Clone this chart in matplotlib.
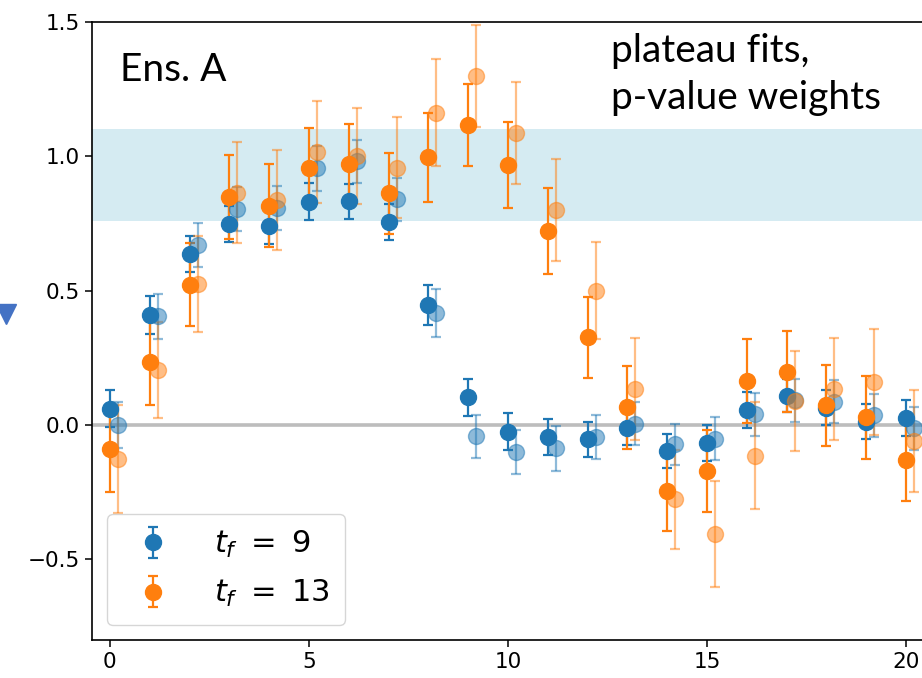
import numpy as np
import matplotlib
matplotlib.use("Agg")
import matplotlib.pyplot as plt
from matplotlib.lines import Line2D

# insertion times
t = np.arange(0, 21)

# t_f = 9, solid and faded (shifted) points
y9 = [0.061, 0.41, 0.637, 0.747, 0.742, 0.831, 0.833, 0.755, 0.448, 0.103, -0.025,
      -0.045, -0.053, -0.01, -0.096, -0.066, 0.056, 0.109, 0.065, 0.012, 0.025]
e9 = [0.07, 0.072, 0.066, 0.067, 0.068, 0.068, 0.065, 0.066, 0.075, 0.068, 0.068,
      0.067, 0.065, 0.065, 0.063, 0.067, 0.066, 0.062, 0.066, 0.065, 0.067]
y9b = [0.0, 0.404, 0.669, 0.805, 0.809, 0.955, 0.981, 0.84, 0.417, -0.041, -0.1,
       -0.087, -0.045, 0.005, -0.072, -0.051, 0.041, 0.093, 0.087, 0.037, -0.012]
e9b = [0.084, 0.085, 0.082, 0.082, 0.082, 0.083, 0.081, 0.081, 0.09, 0.08, 0.083,
       0.083, 0.081, 0.08, 0.077, 0.08, 0.08, 0.08, 0.08, 0.08, 0.08]

# t_f = 13
y13 = [-0.09, 0.236, 0.522, 0.848, 0.817, 0.955, 0.973, 0.862, 0.997, 1.117, 0.966,
       0.721, 0.326, 0.066, -0.245, -0.17, 0.164, 0.199, 0.073, 0.029, -0.131]
e13 = [0.16, 0.16, 0.155, 0.157, 0.153, 0.149, 0.146, 0.152, 0.166, 0.153, 0.16,
       0.16, 0.15, 0.155, 0.15, 0.152, 0.157, 0.152, 0.15, 0.154, 0.153]
y13b = [-0.127, 0.205, 0.525, 0.865, 0.837, 1.017, 1.001, 0.958, 1.163, 1.3, 1.088,
        0.799, 0.5, 0.134, -0.276, -0.407, -0.114, 0.09, 0.133, 0.16, -0.06]
e13b = [0.2, 0.18, 0.18, 0.187, 0.187, 0.19, 0.18, 0.187, 0.2, 0.19, 0.19,
        0.19, 0.18, 0.19, 0.185, 0.197, 0.2, 0.185, 0.19, 0.197, 0.19]

band = (0.76, 1.1)
shift = 0.2

fig = plt.figure(figsize=(9.22, 6.78), dpi=100)
ax = fig.add_axes([0.0998, 0.056, 0.9045, 0.9116])

ax.axhspan(band[0], band[1], color='lightblue', alpha=0.5, lw=0, zorder=0)
ax.axhline(0, color='#bdbdbd', lw=2.6, zorder=1)

kw = dict(fmt='o', ms=11.5, capsize=3.5, elinewidth=1.6, capthick=1.6)
ax.errorbar(t, y9, yerr=e9, color='C0', label=r'$t_f\ =\ 9$', **kw)
ax.errorbar(t + shift, y9b, yerr=e9b, color='C0', alpha=0.5, **kw)
ax.errorbar(t, y13, yerr=e13, color='C1', label=r'$t_f\ =\ 13$', **kw)
ax.errorbar(t + shift, y13b, yerr=e13b, color='C1', alpha=0.5, **kw)

ax.set_xlim(-0.45, 20.5)
ax.set_ylim(-0.8, 1.5)
ax.set_xticks([0, 5, 10, 15, 20])
ax.set_yticks([-0.5, 0.0, 0.5, 1.0, 1.5])
ax.tick_params(labelsize=15.5, length=5, width=1.1)
for s in ax.spines.values():
    s.set_linewidth(1.2)

ax.text(0.034, 0.922, 'Ens. A', transform=ax.transAxes, fontsize=28,
        family='Lato', va='center')
ax.text(0.622, 0.982, 'plateau fits,\np-value weights', transform=ax.transAxes,
        fontsize=28, family='Lato', va='top', linespacing=1.38)

leg = ax.legend(loc='lower left', fontsize=22, bbox_to_anchor=(0.0, 0.0),
                handletextpad=1.0, borderpad=0.5, labelspacing=0.6)

# stray marker from neighbouring panel
fig.add_artist(Line2D([0.006], [0.537], marker='v', ms=14, color='#4472c4',
                      transform=fig.transFigure, lw=0))

fig.savefig('out.png', dpi=100)
